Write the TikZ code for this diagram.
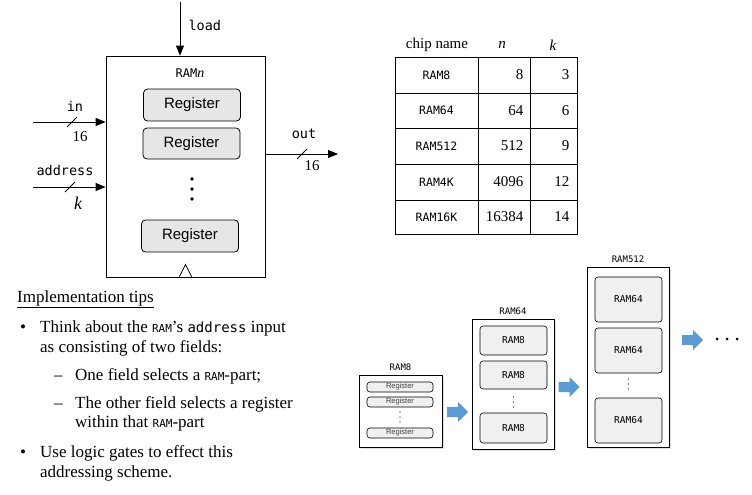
\documentclass[tikz,border=0pt]{standalone}
\usepackage{fontspec}
\setmainfont{Liberation Serif}
\setsansfont{Liberation Sans}
\setmonofont{DejaVu Sans Mono}
\usepackage{xcolor}
\usetikzlibrary{arrows.meta}
\usetikzlibrary{positioning}
\usetikzlibrary{shadows}
\definecolor{regfill}{RGB}{230,230,230}
\definecolor{partfill}{RGB}{240,240,240}
\definecolor{stepblue}{RGB}{91,155,213}
\newcommand{\fs}[1]{\fontsize{#1}{1.2\dimexpr #1pt\relax}\selectfont}

\begin{document}
\begin{tikzpicture}[x=1pt, y=1pt,
        arr/.style={-{Triangle[length=10pt, width=8pt]}, line width=1pt},
        bus/.style={line width=0.8pt},
        reg/.style={draw, line width=0.8pt, rounded corners=4pt, fill=regfill, minimum width=97, minimum height=32, font=\sffamily\fs{15}},
        mono/.style={font=\ttfamily\fs{13.5}},
        num/.style={font=\fs{15}},
        cell/.style={font=\fs{15}},
        cellname/.style={font=\ttfamily\fs{11.5}},
        outer/.style={draw, line width=0.8pt, fill=white, drop shadow={shadow xshift=1.5pt, shadow yshift=-1.5pt, opacity=0.25}},
        part/.style={draw, line width=0.6pt, rounded corners=3pt, fill=partfill},
        partlbl/.style={font=\ttfamily\fs{9.5}},
        stepar/.pic={\fill [stepblue] (-10.5,-5) -- (0.5,-5) -- (0.5,-10) -- (10.5,0) -- (0.5,10) -- (0.5,5) -- (-10.5,5) -- cycle;},
        txt/.style={font=\fs{17}, anchor=base west, inner sep=0pt}]
    \useasboundingbox (0,0) rectangle (752,-495);

    \node [draw, line width=0.8pt, minimum width=159, minimum height=221] (ram) at (185.5,-166.5) {};
    \node [font=\ttfamily\fs{12}] (ramn) at (190,-73) {RAM{\rmfamily\itshape\fs{14}n}};
    \node [reg] (reg1) at (192,-105) {Register};
    \node [reg, minimum height=31] (reg2) at (191.5,-143.5) {Register};
    \node [reg] (reg3) at (190,-236) {Register};
    \foreach \y in {179,189,199}
        \fill (192,-\y) circle (1.8);
    \draw [line width=0.8pt] (ram.south) ++(-6.5,0) -- ++(6.5,13) -- ++(6.5,-13);

    \coordinate (ld) at (180,-2);
    \draw [arr] (ld) -- (ld |- ram.north);
    \node [mono, anchor=west] (load) at (185,-25) {load};

    \coordinate (in0) at (33,-122);
    \draw [arr] (in0) -- (in0 -| ram.west);
    \draw [bus] (67,-127) -- (77,-117);
    \node [mono] (inlbl) at (75,-106) {in};
    \node [num] (inw) at (80,-137) {16};

    \coordinate (ad0) at (33,-187);
    \draw [arr] (ad0) -- (ad0 -| ram.west);
    \draw [bus] (65,-192) -- (75,-182);
    \node [mono] (adlbl) at (65,-170) {address};
    \node [font=\fs{18}\itshape] (adw) at (78,-203) {k};

    \coordinate (out0) at (ram.east |- 0,-154);
    \coordinate (out1) at (338,-154);
    \draw [arr] (out0) -- (out1);
    \draw [bus] (297,-159) -- (307,-149);
    \node [mono] (outlbl) at (304,-134) {out};
    \node [num] (outw) at (312,-166) {16};

    \node [cell] (hname) at (437,-45) {chip name};
    \node [cell, font=\fs{15}\itshape] (hn) at (502,-45) {n};
    \node [cell, font=\fs{15}\itshape] (hk) at (553,-45) {k};
    \draw [line width=0.8pt] (395,-57) rectangle (577,-234);
    \draw [line width=0.8pt] (478,-57) -- (478,-234);
    \draw [line width=0.8pt] (530,-57) -- (530,-234);
    \foreach \y in {93,128,164,200}
        \draw [line width=0.8pt] (395,-\y) -- (577,-\y);
    \foreach \chip/\n/\k/\y in {RAM8/8/3/75, RAM64/64/6/110.5, RAM512/512/9/146, RAM4K/4096/12/182, RAM16K/16384/14/217}{
        \node [cellname] (c\chip) at (436.5,-\y) {\chip};
        \node [cell, anchor=east] (n\chip) at (527,-\y) {\n};
        \node [cell, anchor=east] (k\chip) at (573,-\y) {\k};
    }

    \node [txt] (tips) at (17,-302) {\underline{Implementation tips}};
    \node [txt] (b1) at (20,-332) {\textbullet};
    \node [txt] (l1) at (40,-332) {Think about the {\ttfamily\fs{11}RAM}’s {\ttfamily\fs{14}address} input};
    \node [txt] (l2) at (40,-352) {as consisting of two fields:};
    \node [txt] (d1) at (54,-380) {--};
    \node [txt] (l3) at (75,-380) {One field selects a {\ttfamily\fs{11}RAM}-part;};
    \node [txt] (d2) at (54,-408) {--};
    \node [txt] (l4) at (75,-408) {The other field selects a register};
    \node [txt] (l5) at (75,-427) {within that {\ttfamily\fs{11}RAM}-part};
    \node [txt] (b2) at (20,-457) {\textbullet};
    \node [txt] (l6) at (40,-457) {Use logic gates to effect this};
    \node [txt] (l7) at (40,-477) {addressing scheme.};

    \node [outer, minimum width=83, minimum height=72] (r8) at (400.5,-411) {};
    \node [partlbl, font=\ttfamily\fs{9}, above=0pt of r8] (r8lbl) {RAM8};
    \foreach \y/\nm in {387/a, 402/b, 433/c}
        \node [part, minimum width=66, minimum height=10, inner sep=0pt, font=\sffamily\fs{7.5}, text=black!75] (r8\nm) at (400,-\y) {Register};
    \foreach \y in {412,417,422}
        \fill (400,-\y) circle (0.7);

    \node [outer, minimum width=82, minimum height=130] (r64) at (513,-384) {};
    \node [partlbl, font=\ttfamily\fs{9}, above=0pt of r64] (r64lbl) {RAM64};
    \foreach \y/\h/\nm in {340.5/29/a, 375/28/b, 428/30/c}
        \node [part, minimum width=67, minimum height=\h, partlbl] (r64\nm) at (513.5,-\y) {RAM8};
    \foreach \y in {397,402,407}
        \fill (513.5,-\y) circle (0.7);

    \node [outer, minimum width=82, minimum height=180] (r512) at (628,-357) {};
    \node [partlbl, font=\ttfamily\fs{9}, above=0pt of r512] (r512lbl) {RAM512};
    \foreach \y/\h/\nm in {299.5/45/a, 350.5/45/b, 420.5/45/c}
        \node [part, minimum width=67, minimum height=\h, partlbl] (r512\nm) at (628.5,-\y) {RAM64};
    \foreach \y in {379,384,389}
        \fill (628.5,-\y) circle (0.7);

    \pic (s1) at (457.5,-412) {stepar};
    \pic (s2) at (569,-387) {stepar};
    \pic (s3) at (692.5,-340) {stepar};
    \foreach \x in {717,727,737}
        \fill (\x,-339) circle (1.5);
\end{tikzpicture}
\end{document}
